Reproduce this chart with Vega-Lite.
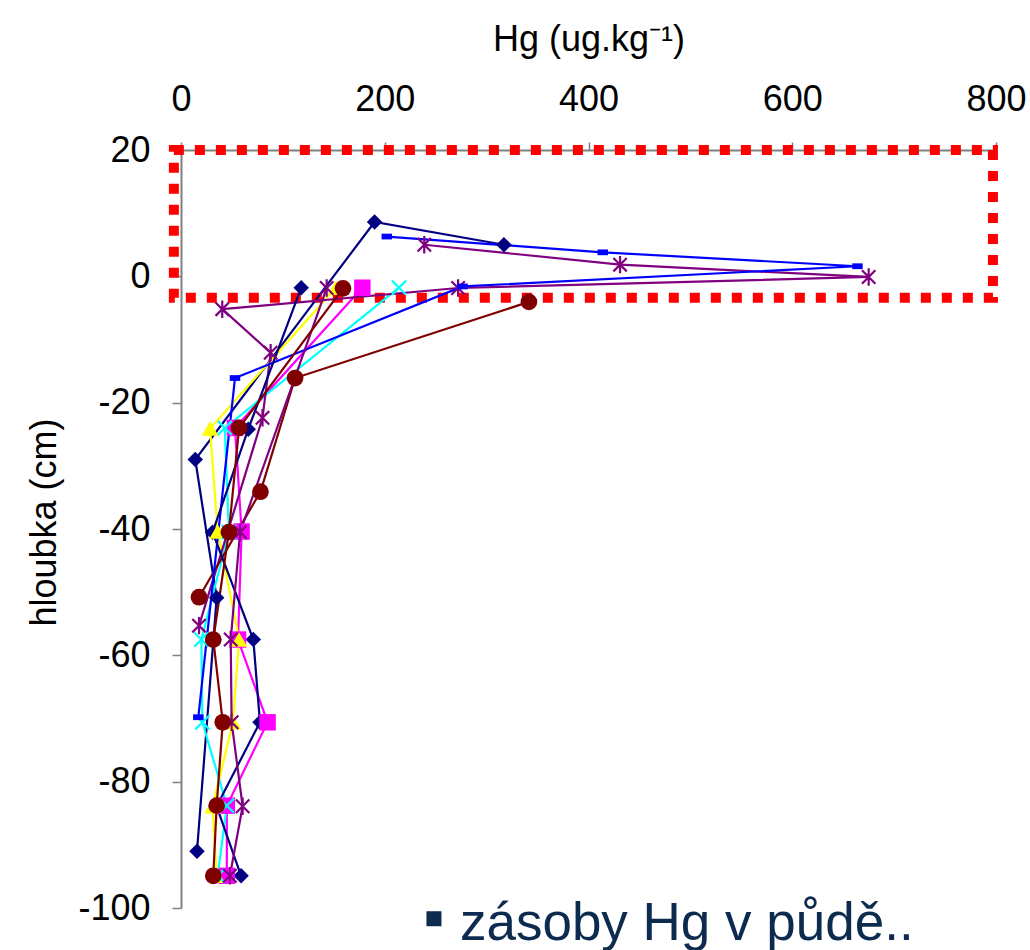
{
  "$schema": "https://vega.github.io/schema/vega-lite/v6.json",
  "width": 815,
  "height": 758,
  "autosize": {"type": "none"},
  "padding": {"left": 181, "top": 150, "right": 34, "bottom": 42},
  "background": "white",
  "config": {
    "view": {"stroke": null},
    "font": "Liberation Sans",
    "axis": {"grid": false, "domainColor": "#808080", "domainWidth": 2, "tickColor": "#808080", "tickWidth": 1.5,
      "labelFontSize": 36, "labelFont": "Liberation Sans", "labelColor": "#000000", "labelFlush": false,
      "titleFontSize": 36, "titleFont": "Liberation Sans", "titleFontWeight": "normal", "titleColor": "#000000"}
  },
  "datasets": {
    "one": [{}],
    "profiles": [
    {"s": "1", "k": 1, "hg": 317, "depth": 5.0},
    {"s": "1", "k": 2, "hg": 190, "depth": 8.6},
    {"s": "1", "k": 3, "hg": 14, "depth": -29},
    {"s": "1", "k": 4, "hg": 35, "depth": -50.9},
    {"s": "1", "k": 5, "hg": 15.7, "depth": -91},
    {"s": "2", "k": 1, "hg": 178, "depth": -1.8},
    {"s": "2", "k": 2, "hg": 53, "depth": -24},
    {"s": "2", "k": 3, "hg": 59.5, "depth": -40.4},
    {"s": "2", "k": 4, "hg": 56, "depth": -57.5},
    {"s": "2", "k": 5, "hg": 85, "depth": -70.6},
    {"s": "2", "k": 6, "hg": 45, "depth": -83.8},
    {"s": "2", "k": 7, "hg": 45, "depth": -94.9},
    {"s": "3", "k": 1, "hg": 152, "depth": -1.8},
    {"s": "3", "k": 2, "hg": 28.5, "depth": -24.1},
    {"s": "3", "k": 3, "hg": 36, "depth": -40.4},
    {"s": "3", "k": 4, "hg": 57, "depth": -57.5},
    {"s": "3", "k": 5, "hg": 51, "depth": -70.6},
    {"s": "3", "k": 6, "hg": 31, "depth": -83.9},
    {"s": "3", "k": 7, "hg": 35, "depth": -94.9},
    {"s": "4", "k": 1, "hg": 214, "depth": -1.8},
    {"s": "4", "k": 2, "hg": 43, "depth": -24},
    {"s": "4", "k": 3, "hg": 47, "depth": -40.5},
    {"s": "4", "k": 4, "hg": 20, "depth": -57.5},
    {"s": "4", "k": 5, "hg": 21, "depth": -70.6},
    {"s": "4", "k": 6, "hg": 45, "depth": -83.8},
    {"s": "4", "k": 7, "hg": 36, "depth": -94.9},
    {"s": "5", "k": 1, "hg": 238.8, "depth": 5.0},
    {"s": "5", "k": 2, "hg": 431, "depth": 1.85},
    {"s": "5", "k": 3, "hg": 675, "depth": -0.1},
    {"s": "5", "k": 4, "hg": 272, "depth": -1.85},
    {"s": "5", "k": 5, "hg": 40.5, "depth": -5.2},
    {"s": "5", "k": 6, "hg": 88, "depth": -12.1},
    {"s": "5", "k": 7, "hg": 80, "depth": -22.4},
    {"s": "5", "k": 8, "hg": 17.7, "depth": -55.3},
    {"s": "6", "k": 1, "hg": 341.5, "depth": -4.05},
    {"s": "6", "k": 2, "hg": 112, "depth": -16.1},
    {"s": "6", "k": 3, "hg": 78, "depth": -34.1},
    {"s": "6", "k": 4, "hg": 17.7, "depth": -50.8},
    {"s": "7", "k": 1, "hg": 202, "depth": 6.3},
    {"s": "7", "k": 2, "hg": 414, "depth": 3.8},
    {"s": "7", "k": 3, "hg": 664, "depth": 1.6},
    {"s": "7", "k": 4, "hg": 276.4, "depth": -1.6},
    {"s": "7", "k": 5, "hg": 53, "depth": -16.1},
    {"s": "7", "k": 6, "hg": 17, "depth": -69.8},
    {"s": "8", "k": 1, "hg": 118, "depth": -1.8},
    {"s": "8", "k": 2, "hg": 66, "depth": -24.2},
    {"s": "8", "k": 3, "hg": 31, "depth": -40.5},
    {"s": "8", "k": 4, "hg": 71, "depth": -57.5},
    {"s": "8", "k": 5, "hg": 77.5, "depth": -70.6},
    {"s": "8", "k": 6, "hg": 35, "depth": -83.9},
    {"s": "8", "k": 7, "hg": 59, "depth": -94.9},
    {"s": "9", "k": 1, "hg": 143, "depth": -1.85},
    {"s": "9", "k": 2, "hg": 58, "depth": -40.5},
    {"s": "9", "k": 3, "hg": 48.8, "depth": -57.5},
    {"s": "9", "k": 4, "hg": 49.7, "depth": -70.6},
    {"s": "9", "k": 5, "hg": 60.5, "depth": -83.9},
    {"s": "9", "k": 6, "hg": 48, "depth": -94.9},
    {"s": "10", "k": 1, "hg": 159, "depth": -1.9},
    {"s": "10", "k": 2, "hg": 57, "depth": -24},
    {"s": "10", "k": 3, "hg": 47, "depth": -40.5},
    {"s": "10", "k": 4, "hg": 31.7, "depth": -57.5},
    {"s": "10", "k": 5, "hg": 41, "depth": -70.6},
    {"s": "10", "k": 6, "hg": 35, "depth": -83.8},
    {"s": "10", "k": 7, "hg": 31.7, "depth": -94.9}
  ]},
  "layer": [
    {
      "data": {"name": "one"},
      "mark": {"type": "rect", "fillOpacity": 0, "stroke": "#FF0000", "strokeWidth": 10, "strokeDash": [10, 11]},
      "encoding": {
        "x": {"datum": -7, "type": "quantitative", "title": "Hg (ug.kg⁻¹)",
          "scale": {"domain": [0, 800], "nice": false, "zero": false},
          "axis": {"orient": "top", "values": [0, 200, 400, 600, 800], "tickSize": 8, "labelPadding": 24, "titleBaseline": "alphabetic", "titleY": -100}},
        "x2": {"datum": 797},
        "y": {"datum": -3.4, "type": "quantitative", "title": "hloubka (cm)",
          "scale": {"domain": [-100, 20], "nice": false, "zero": false},
          "axis": {"values": [-100, -80, -60, -40, -20, 0, 20], "tickSize": 9, "labelPadding": 22, "labelExpr": "datum.value + ''",
            "titleBaseline": "alphabetic", "titleAngle": 270, "titleX": -126, "titleY": 372}},
        "y2": {"datum": 20}
      }
    },
    {
      "data": {"name": "profiles"},
      "encoding": {
        "x": {"field": "hg", "type": "quantitative", "title": "Hg (ug.kg⁻¹)"},
        "y": {"field": "depth", "type": "quantitative", "title": "hloubka (cm)"}
      },
      "layer": [
        {
          "mark": {"type": "line", "strokeWidth": 2.2},
          "encoding": {
            "color": {"field": "s", "type": "nominal", "legend": null,
              "scale": {"domain": ["1", "2", "3", "4", "5", "6", "7", "8", "9", "10"],
                "range": ["#000080", "#FF00FF", "#FFFF00", "#00FFFF", "#800080", "#800000", "#0000FF", "#000080", "#800080", "#800000"]}},
            "order": {"field": "k", "type": "quantitative"}
          }
        },
        {
          "transform": [{"filter": {"field": "s", "oneOf": ["1", "8"]}}],
          "mark": {"type": "point", "shape": "diamond", "filled": true, "size": 240, "color": "#000080", "opacity": 1}
        },
        {
          "transform": [{"filter": {"field": "s", "oneOf": ["2"]}}],
          "mark": {"type": "point", "shape": "square", "filled": true, "size": 270, "color": "#FF00FF", "opacity": 1}
        },
        {
          "transform": [{"filter": {"field": "s", "oneOf": ["3"]}}],
          "mark": {"type": "point", "shape": "triangle-up", "filled": true, "size": 280, "color": "#FFFF00", "opacity": 1}
        },
        {
          "transform": [{"filter": {"field": "s", "oneOf": ["4"]}}],
          "mark": {"type": "point", "shape": "M-1,-1L1,1M-1,1L1,-1", "filled": false, "size": 200, "strokeWidth": 2.2, "color": "#00FFFF", "opacity": 1}
        },
        {
          "transform": [{"filter": {"field": "s", "oneOf": ["5", "9"]}}],
          "mark": {"type": "point", "shape": "M-1,-1L1,1M-1,1L1,-1M0,-1.3L0,1.3", "filled": false, "size": 180, "strokeWidth": 2.2, "color": "#800080", "opacity": 1}
        },
        {
          "transform": [{"filter": {"field": "s", "oneOf": ["6", "10"]}}],
          "mark": {"type": "point", "shape": "circle", "filled": true, "size": 280, "color": "#800000", "opacity": 1}
        },
        {
          "transform": [{"filter": {"field": "s", "oneOf": ["7"]}}],
          "mark": {"type": "point", "shape": "M-1,-0.55L1,-0.55L1,0.55L-1,0.55Z", "filled": true, "size": 110, "color": "#0000FF", "opacity": 1}
        }
      ]
    },
    {
      "data": {"name": "one"},
      "mark": {"type": "point", "shape": "square", "filled": true, "size": 225, "color": "#0C2B4F", "opacity": 1},
      "encoding": {"x": {"datum": 248.3, "type": "quantitative", "title": "Hg (ug.kg⁻¹)"}, "y": {"datum": -101.7, "type": "quantitative", "title": "hloubka (cm)"}}
    },
    {
      "data": {"name": "one"},
      "mark": {"type": "text", "text": "zásoby Hg v půdě..", "font": "Liberation Sans", "fontSize": 53, "align": "left", "baseline": "alphabetic", "color": "#0C2B4F"},
      "encoding": {"x": {"datum": 273.8, "type": "quantitative", "title": "Hg (ug.kg⁻¹)"}, "y": {"datum": -105, "type": "quantitative", "title": "hloubka (cm)"}}
    }
  ]
}
